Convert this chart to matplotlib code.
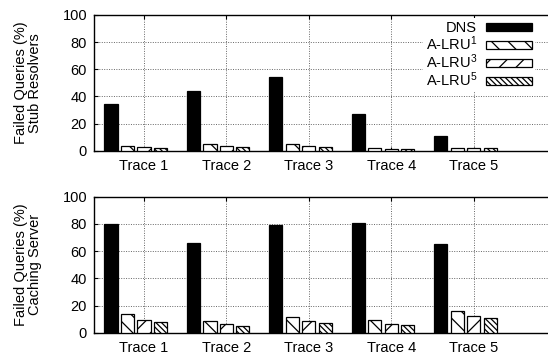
import matplotlib
matplotlib.use("Agg")
import matplotlib.pyplot as plt
import numpy as np

plt.rcParams["font.family"] = ["Liberation Sans", "DejaVu Sans"]
plt.rcParams["hatch.linewidth"] = 0.9
plt.rcParams["mathtext.fontset"] = "custom"
plt.rcParams["mathtext.rm"] = "Liberation Sans"
plt.rcParams["mathtext.it"] = "Liberation Sans"

traces = ["Trace 1", "Trace 2", "Trace 3", "Trace 4", "Trace 5"]
series = ["DNS", "A-LRU$^1$", "A-LRU$^3$", "A-LRU$^5$"]

# pourcentage de requetes echouees, resolveurs stub
stub = {
    "DNS": [34.4, 44.0, 54.0, 27.0, 10.8],
    "A-LRU$^1$": [3.7, 4.7, 4.7, 1.8, 2.2],
    "A-LRU$^3$": [2.7, 3.2, 3.2, 1.2, 2.0],
    "A-LRU$^5$": [2.0, 2.7, 2.9, 1.0, 1.8],
}

# pourcentage de requetes echouees, serveur cache
caching = {
    "DNS": [80.1, 66.0, 79.2, 80.7, 65.5],
    "A-LRU$^1$": [14.0, 8.4, 11.3, 9.6, 16.0],
    "A-LRU$^3$": [9.3, 6.4, 8.4, 6.4, 12.3],
    "A-LRU$^5$": [7.9, 4.9, 7.4, 5.9, 10.8],
}

styles = {
    "DNS": dict(color="black", hatch=None),
    "A-LRU$^1$": dict(color="white", hatch="\\\\"),
    "A-LRU$^3$": dict(color="white", hatch="//"),
    "A-LRU$^5$": dict(color="white", hatch="\\\\\\\\\\\\"),
}

fig = plt.figure(figsize=(5.48, 3.56), dpi=100)
ax_top = fig.add_axes([0.1715, 0.5767, 0.8285, 0.3812])
ax_bot = fig.add_axes([0.1715, 0.0654, 0.8285, 0.3821])

x = np.arange(len(traces))
offsets = [-2, -1, 0, 1]
largeur = 0.16
pas = 0.2


def trace_panel(ax, data, ylabel, legende=False):
    for off, nom in zip(offsets, series):
        st = styles[nom]
        ax.bar(x + off * pas, data[nom], width=largeur,
               color=st["color"], hatch=st["hatch"],
               edgecolor="black", linewidth=0.9, label=nom, zorder=3)
    ax.set_xlim(-0.606, 4.9)
    ax.set_ylim(0, 100)
    ax.set_yticks([0, 20, 40, 60, 80, 100])
    ax.set_xticks(x)
    ax.set_xticklabels(traces)
    ax.tick_params(axis="both", direction="in", labelsize=10.5, length=3,
                   top=True, right=False, pad=6)
    ax.tick_params(axis="y", pad=5)
    ax.grid(True, linestyle=(0, (1, 1.5)), color="#666666", linewidth=0.7,
            zorder=0)
    ax.spines["right"].set_visible(False)
    for s in ["left", "bottom", "top"]:
        ax.spines[s].set_linewidth(1.0)
    ax.set_ylabel(ylabel, fontsize=10.5, labelpad=15, linespacing=0.95)
    if legende:
        leg = ax.legend(loc="upper right", bbox_to_anchor=(0.972, 0.975),
                        markerfirst=False, frameon=True, fancybox=False,
                        edgecolor="none", framealpha=1, fontsize=10.5,
                        handlelength=3.2, handleheight=0.5,
                        handletextpad=0.6, labelspacing=-0.04,
                        borderpad=0.2, borderaxespad=0)
        leg.set_zorder(5)


trace_panel(ax_top, stub, "Failed Queries (%)\nStub Resolvers", legende=True)
trace_panel(ax_bot, caching, "Failed Queries (%)\nCaching Server")

fig.savefig("out.png", dpi=100)
